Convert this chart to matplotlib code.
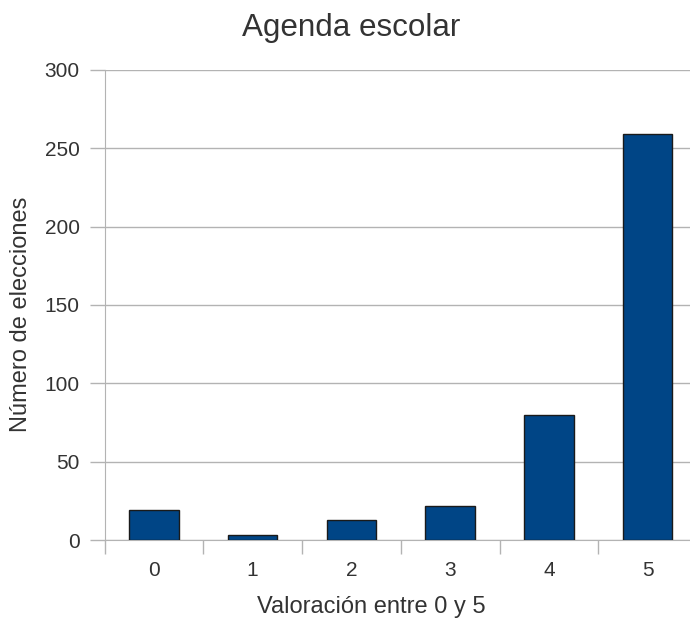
import matplotlib.pyplot as plt

# data
categories = ["0", "1", "2", "3", "4", "5"]
votes = [19, 3, 13, 22, 80, 259]
y_ticks = [0, 50, 100, 150, 200, 250, 300]

plt.rcParams["font.family"] = ["Liberation Sans", "DejaVu Sans"]
text_color = "#333333"
grid_color = "#b3b3b3"

W, H = 690, 621
fig = plt.figure(figsize=(W / 100, H / 100), dpi=100)

# plot area in pixel coordinates (left, top, right, bottom)
left, top, right, bottom = 104.5, 70, 697, 540
ax = fig.add_axes([left / W, 1 - bottom / H, (right - left) / W, (bottom - top) / H])

x = list(range(len(categories)))
ax.bar(x, votes, width=0.5, color="#004586", edgecolor="#1a1a1a", linewidth=1, zorder=3)

ax.set_xlim(-0.5, len(categories) - 0.5)
ax.set_ylim(0, 300)
ax.set_yticks(y_ticks)
ax.yaxis.grid(True, color=grid_color, linewidth=1, zorder=0)

# category ticks sit between the bars
ax.set_xticks([i + 0.5 for i in x[:-1]] + [-0.5], minor=False)
ax.set_xticks(x, minor=True)
ax.set_xticklabels([""] * len(x), minor=False)
ax.set_xticklabels(categories, minor=True)
ax.tick_params(axis="x", which="major", length=10, width=1, color=grid_color)
ax.tick_params(axis="x", which="minor", length=0, pad=15, labelsize=15, labelcolor=text_color)
ax.tick_params(axis="y", length=11, width=1, color=grid_color, pad=7, labelsize=15, labelcolor=text_color)

for side in ["top", "right"]:
    ax.spines[side].set_visible(False)
ax.spines["left"].set_color(grid_color)
ax.spines["bottom"].set_color(grid_color)

fig.text(351 / W, 1 - 36 / H, "Agenda escolar", ha="center", va="baseline",
         fontsize=22.6, color=text_color)
fig.text(371 / W, 1 - 613 / H, "Valoración entre 0 y 5", ha="center", va="baseline",
         fontsize=17, color=text_color)
fig.text(21 / W, 1 - 314 / H, "Número de elecciones", ha="center", va="center",
         rotation=90, fontsize=17, color=text_color)

fig.savefig("out.png", dpi=100)
